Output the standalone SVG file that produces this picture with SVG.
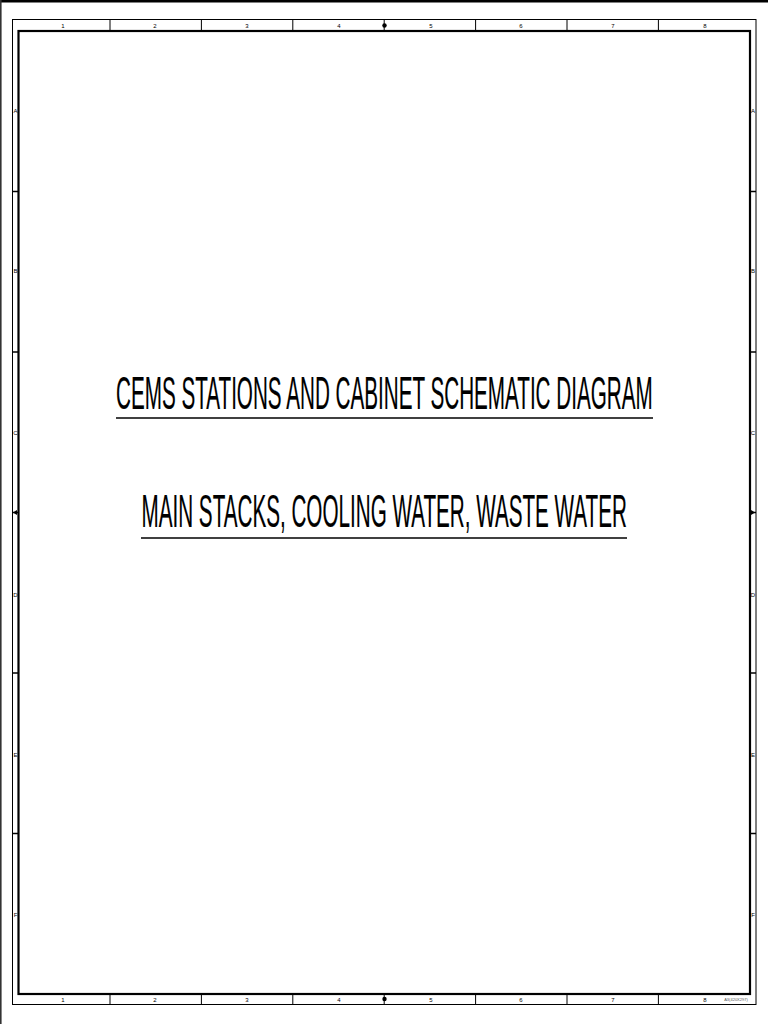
<svg xmlns="http://www.w3.org/2000/svg" width="768" height="1024" viewBox="0 0 768 1024">
<style>
.zl{font-family:"Liberation Sans",Arial,sans-serif;font-size:6px;fill:#000;text-anchor:middle}
.title{font-family:"Liberation Sans",Arial,sans-serif;font-size:47px;fill:#000;stroke:#000;stroke-width:0.2}
.thin{stroke:#000;stroke-width:1;fill:none}
.thick{stroke:#000;stroke-width:2.2;fill:none}
</style>
<rect width="768" height="1024" fill="#fff"/>
<line x1="0" y1="1.2" x2="768" y2="1.2" stroke="#000" stroke-width="2.5"/>
<line x1="0.8" y1="0" x2="0.8" y2="1024" stroke="#333" stroke-width="1.6"/>
<g id="frame">
<rect x="12.5" y="19.5" width="743.5" height="985" class="thin"/>
<rect x="18.5" y="31" width="731.5" height="963" class="thick"/>
<g class="thin">
<path d="M110 19.5V31M201.4 19.5V31M292.8 19.5V31M384.2 19.5V31M475.6 19.5V31M567 19.5V31M658.4 19.5V31"/>
<path d="M110 994V1004.5M201.4 994V1004.5M292.8 994V1004.5M384.2 994V1004.5M475.6 994V1004.5M567 994V1004.5M658.4 994V1004.5"/>
</g>
<g stroke="#000" stroke-width="1.5">
<path d="M12.5 191.5H18.5M12.5 352H18.5M12.5 512.5H18.5M12.5 673H18.5M12.5 833.5H18.5"/>
<path d="M750 191.5H756M750 352H756M750 512.5H756M750 673H756M750 833.5H756"/>
</g>
<g fill="#000">
<circle cx="384.5" cy="25.5" r="2.2"/>
<circle cx="384.5" cy="999" r="2.2"/>
<path d="M13 512.5L17 510V515Z"/>
<path d="M755 512.5L751 510V515Z"/>
</g>
<g class="zl">
<text x="63" y="27.5">1</text><text x="155" y="27.5">2</text><text x="247" y="27.5">3</text><text x="339" y="27.5">4</text>
<text x="431" y="27.5">5</text><text x="521" y="27.5">6</text><text x="613" y="27.5">7</text><text x="705" y="27.5">8</text>
<text x="63" y="1001.5">1</text><text x="155" y="1001.5">2</text><text x="247" y="1001.5">3</text><text x="339" y="1001.5">4</text>
<text x="431" y="1001.5">5</text><text x="521" y="1001.5">6</text><text x="613" y="1001.5">7</text><text x="705" y="1001.5">8</text>
<text x="15.5" y="113">A</text><text x="15.5" y="273">B</text><text x="15.5" y="435">C</text><text x="15.5" y="597">D</text><text x="15.5" y="757">E</text><text x="15.5" y="917">F</text>
<text x="753" y="113">A</text><text x="753" y="273">B</text><text x="753" y="435">C</text><text x="753" y="597">D</text><text x="753" y="757">E</text><text x="753" y="917">F</text>
<text x="736" y="1001" style="font-size:4px;fill:#555">A3(420X297)</text>
</g>
</g>
<g id="title1">
<text class="title" transform="translate(116,409) scale(0.4395,1)" x="0" y="0">CEMS STATIONS AND CABINET SCHEMATIC DIAGRAM</text>
<line x1="116" y1="418" x2="653" y2="418" stroke="#000" stroke-width="1.5"/>
</g>
<g id="title2">
<text class="title" transform="translate(141.5,527) scale(0.4395,1)" x="0" y="0">MAIN STACKS, COOLING WATER, WASTE WATER</text>
<line x1="141" y1="538" x2="627" y2="538" stroke="#000" stroke-width="1.5"/>
</g>
</svg>
